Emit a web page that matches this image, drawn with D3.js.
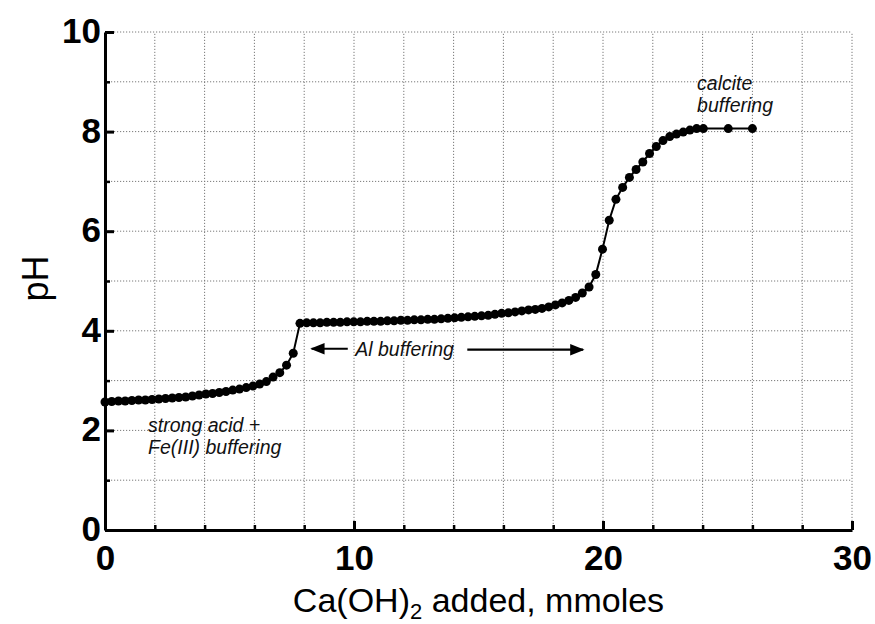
<!DOCTYPE html>
<html>
<head>
<meta charset="utf-8">
<script src="https://cdn.jsdelivr.net/npm/d3@7"></script>
<style>
    body { margin: 0; background: #fff; }
    svg { display: block; font-family: Arial, "Liberation Sans", Helvetica, sans-serif; }
    .grid line { stroke: #7a7a7a; stroke-width: 1; stroke-dasharray: 1.2 1.8; }
    .axis path, .axis line { stroke: #000; }
    .note { font-style: italic; font-size: 19.5px; fill: #111; }
</style>
</head>
<body>
<div class="panel"></div>
<script>
// Ca(OH)2 added (mmoles) and measured pH
const mmoles = [0, 0.27, 0.54, 0.81, 1.08, 1.35, 1.62, 1.89, 2.16, 2.43,
    2.70, 2.97, 3.24, 3.51, 3.78, 4.05, 4.32, 4.59, 4.86, 5.13,
    5.40, 5.67, 5.94, 6.21, 6.48, 6.75, 7.02, 7.29, 7.56, 7.83,
    8.10, 8.37, 8.64, 8.91, 9.18, 9.45, 9.72, 9.99, 10.26, 10.53,
    10.80, 11.07, 11.34, 11.61, 11.88, 12.15, 12.42, 12.69, 12.96, 13.23,
    13.50, 13.77, 14.04, 14.31, 14.58, 14.85, 15.12, 15.39, 15.66, 15.93,
    16.20, 16.47, 16.74, 17.01, 17.28, 17.55, 17.82, 18.09, 18.36, 18.63,
    18.90, 19.17, 19.44, 19.71, 19.98, 20.25, 20.52, 20.79, 21.06, 21.33,
    21.60, 21.87, 22.14, 22.41, 22.68, 22.95, 23.22, 23.49, 23.76, 24.03,
    25.03, 26.0];
const pH = [2.57, 2.58, 2.59, 2.59, 2.60, 2.61, 2.61, 2.62, 2.63, 2.64,
    2.65, 2.66, 2.67, 2.69, 2.71, 2.73, 2.74, 2.76, 2.78, 2.81,
    2.83, 2.86, 2.89, 2.93, 2.98, 3.07, 3.16, 3.31, 3.55, 4.15,
    4.16, 4.16, 4.16, 4.17, 4.17, 4.17, 4.18, 4.18, 4.18, 4.19,
    4.19, 4.19, 4.20, 4.20, 4.21, 4.21, 4.22, 4.22, 4.23, 4.23,
    4.24, 4.25, 4.26, 4.27, 4.28, 4.29, 4.30, 4.31, 4.33, 4.35,
    4.36, 4.38, 4.40, 4.42, 4.43, 4.45, 4.48, 4.52, 4.56, 4.61,
    4.67, 4.76, 4.88, 5.13, 5.64, 6.22, 6.64, 6.88, 7.08, 7.24,
    7.39, 7.56, 7.70, 7.82, 7.90, 7.95, 7.99, 8.03, 8.06, 8.06,
    8.06, 8.06];

const xTicks = [0, 10, 20, 30];
const xMinor = [2, 4, 6, 8, 12, 14, 16, 18, 22, 24, 26, 28];
const yTicks = [0, 2, 4, 6, 8, 10];
const yMinor = [1, 3, 5, 7, 9];

const width = 875;
const height = 624;
const margins = {top: 32, right: 23, bottom: 94, left: 105};

const svg = d3.select("div.panel").append("svg").attr("width", width).attr("height", height);

const xScale = d3.scaleLinear().domain([0, 30]).range([margins.left, width - margins.right]);
const yScale = d3.scaleLinear().domain([0, 10]).range([height - margins.bottom, margins.top]);

// dotted grid
svg.append("g").attr("class", "grid")
    .selectAll("line").data(d3.range(2, 31, 2)).enter().append("line")
    .attr("x1", d => xScale(d)).attr("x2", d => xScale(d))
    .attr("y1", yScale(0)).attr("y2", yScale(10));
svg.append("g").attr("class", "grid")
    .selectAll("line").data(d3.range(1, 11)).enter().append("line")
    .attr("x1", xScale(0)).attr("x2", xScale(30))
    .attr("y1", d => yScale(d)).attr("y2", d => yScale(d));

// minor ticks
svg.append("g").attr("class", "axis")
    .attr("transform", "translate(0," + yScale(0) + ")")
    .call(d3.axisBottom(xScale).tickValues(xMinor).tickSize(-5).tickFormat(""))
    .call(g => g.select(".domain").remove())
    .selectAll("line").attr("stroke-width", 2.5);
svg.append("g").attr("class", "axis")
    .attr("transform", "translate(" + xScale(0) + ",0)")
    .call(d3.axisLeft(yScale).tickValues(yMinor).tickSize(-5).tickFormat(""))
    .call(g => g.select(".domain").remove())
    .selectAll("line").attr("stroke-width", 2.5);

// main axes
const xAxis = svg.append("g").attr("class", "axis")
    .attr("transform", "translate(0," + yScale(0) + ")")
    .call(d3.axisBottom(xScale).tickValues(xTicks).tickSize(-9).tickSizeOuter(0).tickPadding(22));
xAxis.select(".domain").attr("stroke-width", 3);
xAxis.selectAll("line").attr("stroke-width", 3);
xAxis.selectAll("text").attr("font-size", 35).attr("font-weight", "bold").attr("fill", "#000")
    .attr("dy", "0.5em");

const yAxis = svg.append("g").attr("class", "axis")
    .attr("transform", "translate(" + xScale(0) + ",0)")
    .call(d3.axisLeft(yScale).tickValues(yTicks).tickSize(-9).tickSizeOuter(0).tickPadding(4));
yAxis.select(".domain").attr("stroke-width", 3);
yAxis.selectAll("line").attr("stroke-width", 3);
yAxis.selectAll("text").attr("font-size", 35).attr("font-weight", "bold").attr("fill", "#000")
    .attr("dy", "0.3em");

// titration curve
const pts = mmoles.map((m, i) => [m, pH[i]]);
svg.append("path").datum(pts)
    .attr("fill", "none").attr("stroke", "#000").attr("stroke-width", 2)
    .attr("d", d3.line().x(d => xScale(d[0])).y(d => yScale(d[1])));
svg.append("g").selectAll("circle").data(pts).enter().append("circle")
    .attr("cx", d => xScale(d[0])).attr("cy", d => yScale(d[1]))
    .attr("r", 4.5).attr("fill", "#000");

// axis titles
svg.append("text")
    .attr("transform", "translate(48," + yScale(5.05) + ") rotate(-90)")
    .attr("text-anchor", "middle").attr("font-size", 36)
    .text("pH");
const xt = svg.append("text")
    .attr("x", xScale(15.0)).attr("y", 612)
    .attr("text-anchor", "middle").attr("font-size", 34);
xt.append("tspan").text("Ca(OH)");
xt.append("tspan").attr("font-size", 22).attr("dy", 7).text("2");
xt.append("tspan").attr("dy", -7).text(" added, mmoles");

// annotations
svg.append("text").attr("class", "note").attr("x", xScale(23.78)).attr("y", yScale(8.84)).text("calcite");
svg.append("text").attr("class", "note").attr("x", xScale(23.78)).attr("y", yScale(8.4)).text("buffering");
svg.append("text").attr("class", "note").attr("x", xScale(1.73)).attr("y", yScale(1.97)).text("strong acid +");
svg.append("text").attr("class", "note").attr("x", xScale(1.73)).attr("y", yScale(1.53)).text("Fe(III) buffering");
svg.append("text").attr("class", "note").attr("x", xScale(10.05)).attr("y", yScale(3.5)).text("Al buffering");

svg.append("defs").append("marker")
    .attr("id", "head").attr("viewBox", "0 0 10 10")
    .attr("refX", 9).attr("refY", 5)
    .attr("markerWidth", 6.5).attr("markerHeight", 6.5)
    .attr("markerUnits", "strokeWidth").attr("orient", "auto")
    .append("path").attr("d", "M0,1 L10,5 L0,9 Z").attr("fill", "#000");

svg.append("line")
    .attr("x1", xScale(9.75)).attr("x2", xScale(8.3))
    .attr("y1", yScale(3.64)).attr("y2", yScale(3.64))
    .attr("stroke", "#000").attr("stroke-width", 2.2).attr("marker-end", "url(#head)");
svg.append("line")
    .attr("x1", xScale(14.55)).attr("x2", xScale(19.2))
    .attr("y1", yScale(3.62)).attr("y2", yScale(3.62))
    .attr("stroke", "#000").attr("stroke-width", 2.2).attr("marker-end", "url(#head)");
</script>
</body>
</html>
